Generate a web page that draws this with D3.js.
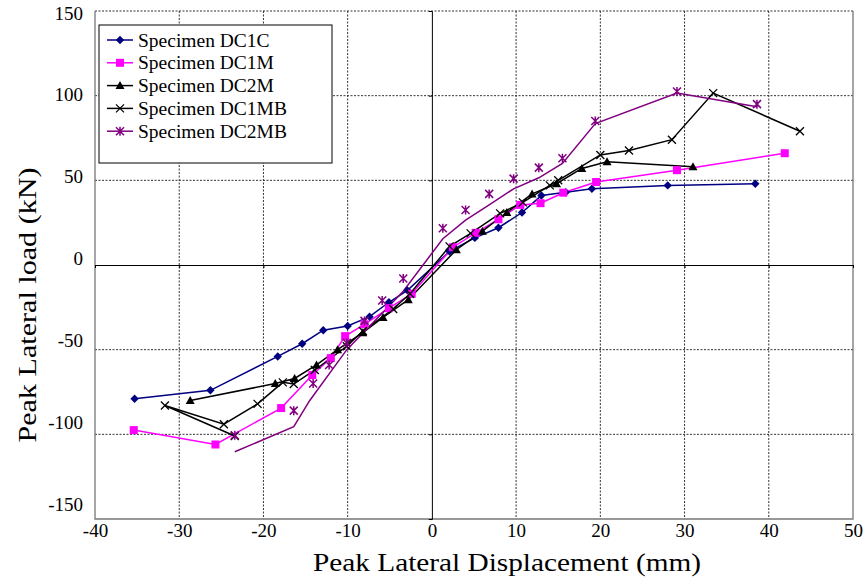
<!DOCTYPE html>
<html>
<head>
<meta charset="utf-8">
<script src="https://d3js.org/d3.v7.min.js"></script>
<style>
  body { margin: 0; background: #fff; }
  svg text { font-family: "Liberation Serif", serif; }
</style>
</head>
<body>
<div id="chart"></div>
<script>
// Axis ticks
const xTicks = [-40, -30, -20, -10, 0, 10, 20, 30, 40, 50];
const yTicks = [-150, -100, -50, 0, 50, 100, 150];

// Series: [displacement (mm), load (kN)]
const dc1c = [[-35.3, -79], [-26.3, -74], [-18.3, -54], [-15.4, -46.5], [-12.9, -38.5], [-10, -36], [-7.4, -30.5], [-5.1, -22], [-2.9, -15], [2.1, 8], [5.1, 16], [7.9, 22], [10.7, 31], [13.0, 41], [15.9, 43], [19.0, 45], [28.0, 47], [38.4, 48]];
const dc1m = [[-35.4, -97.5], [-25.7, -106], [-17.9, -84.5], [-14.2, -65], [-12.0, -55], [-10.3, -42], [-8.0, -35], [-5.1, -25.5], [-2.4, -17], [2.5, 10.5], [5.2, 19], [7.9, 27], [10.5, 35.5], [12.9, 36.5], [15.6, 42.7], [19.5, 49], [29.1, 56], [41.9, 66]];
const dc2m = [[-28.7, -80], [-18.6, -70], [-16.3, -67], [-13.7, -59], [-11.2, -50], [-8.2, -40], [-5.8, -31], [-2.8, -20.5], [2.9, 9], [6.0, 20], [8.9, 31], [11.9, 42], [14.8, 48], [17.8, 57], [20.8, 61], [31.0, 58]];
const dc1mb = [[-23.4, -101], [-31.7, -83], [-24.7, -94], [-20.7, -82], [-17.7, -69.3], [-16.4, -70.3], [-13.9, -62], [-10.1, -48], [-8.2, -39], [-4.6, -26], [-2.6, -17], [2.1, 11], [4.6, 18.7], [8.1, 30.5], [10.8, 37], [14.0, 47], [15.0, 50], [20.0, 65], [23.4, 67.6], [28.5, 74], [33.4, 101.5], [43.7, 79]];
const dc2mbMarks = [[-23.4, -100.5], [-16.4, -86], [-14.1, -70], [-12.2, -59], [-10.1, -46], [-8.0, -33], [-5.9, -21], [-3.4, -8], [1.3, 21.7], [4.0, 32.5], [6.8, 42], [9.7, 51], [12.7, 57.5], [15.5, 63], [19.4, 85], [29.1, 102.5], [38.6, 95]];
const dc2mbLine = [[-23.4, -110.3], [-16.4, -95.5], [-14.5, -80], [-10.1, -50], [-3.4, -15.5], [1.3, 15.5], [4.0, 26.5], [6.8, 35.5], [9.7, 45], [12.7, 51.5], [15.5, 60], [19.4, 83.5], [29.1, 101.5], [38.6, 93.5]];

const legendNames = ["Specimen DC1C", "Specimen DC1M", "Specimen DC2M", "Specimen DC1MB", "Specimen DC2MB"];

const w = 867, h = 585;
const plot = { left: 95, right: 853, top: 11, bottom: 519 };
const serif = "Liberation Serif, serif";

var svg = d3.select("#chart")
  .append("svg")
  .attr("width", w)
  .attr("height", h);

var xScale = d3.scaleLinear().domain([-40, 50]).range([plot.left, plot.right]);
var yScale = d3.scaleLinear().domain([-150, 150]).range([plot.bottom, plot.top]);

// grid lines
svg.append("g")
  .selectAll("line")
  .data(xTicks.filter(t => t != 0 && t != -40 && t != 50))
  .enter()
  .append("line")
  .attr("x1", d => xScale(d)).attr("x2", d => xScale(d))
  .attr("y1", plot.top).attr("y2", plot.bottom)
  .attr("stroke", "#333").attr("stroke-width", 1).attr("stroke-dasharray", "2,1.5");

svg.append("g")
  .selectAll("line")
  .data(yTicks.filter(t => t != 0 && t != -150))
  .enter()
  .append("line")
  .attr("x1", plot.left).attr("x2", plot.right)
  .attr("y1", d => yScale(d)).attr("y2", d => yScale(d))
  .attr("stroke", "#333").attr("stroke-width", 1).attr("stroke-dasharray", "2,1.5");

// plot frame
svg.append("path")
  .attr("d", `M${plot.left},${plot.top}V${plot.bottom}H${plot.right}V${plot.top}`)
  .attr("fill", "none")
  .attr("stroke", "#777")
  .attr("stroke-width", 1.3);

// axes through zero
var xZero = d3.axisBottom(xScale).tickValues(xTicks).tickSize(3).tickFormat("");
svg.append("g")
  .attr("transform", `translate(0, ${yScale(0)})`)
  .call(xZero)
  .call(g => g.selectAll("path, line").attr("stroke", "#000"));

var yZero = d3.axisLeft(yScale).tickValues(yTicks).tickSize(3).tickFormat("");
svg.append("g")
  .attr("transform", `translate(${xScale(0)}, 0)`)
  .call(yZero)
  .call(g => g.selectAll("path, line").attr("stroke", "#000"));

// tick labels (plain hyphen for negatives, like the original)
var xLabels = d3.axisBottom(xScale).tickValues(xTicks).tickSize(0).tickPadding(5)
  .tickFormat(d => String(d));
svg.append("g")
  .attr("transform", `translate(0, ${plot.bottom})`)
  .call(xLabels)
  .attr("font-family", serif)
  .call(g => g.select(".domain").remove())
  .call(g => g.selectAll("text")
    .attr("font-family", serif).attr("font-size", 19).attr("fill", "#000"));

var yLabels = d3.axisLeft(yScale).tickValues(yTicks).tickSize(0).tickPadding(12)
  .tickFormat(d => String(d));
svg.append("g")
  .attr("transform", `translate(${plot.left}, 0)`)
  .call(yLabels)
  .attr("font-family", serif)
  .call(g => g.select(".domain").remove())
  .call(g => g.selectAll(".tick text")
    .attr("font-family", serif).attr("font-size", 19).attr("fill", "#000")
    // labels in the original drift up a little towards the bottom
    .attr("y", d => 2 - (150 - d) / 300 * 17));

// axis titles
svg.append("text")
  .attr("x", 507).attr("y", 571)
  .attr("text-anchor", "middle")
  .attr("font-family", serif)
  .attr("font-size", 26)
  .attr("textLength", 388).attr("lengthAdjust", "spacingAndGlyphs")
  .text("Peak Lateral Displacement (mm)");

svg.append("text")
  .attr("transform", `translate(36, 305) rotate(-90)`)
  .attr("text-anchor", "middle")
  .attr("font-family", serif)
  .attr("font-size", 26)
  .attr("textLength", 275).attr("lengthAdjust", "spacingAndGlyphs")
  .text("Peak Lateral load (kN)");

// marker drawing
function drawMarker(g, type, color) {
  if (type == "diamond") {
    g.append("path").attr("d", "M0,-4.2L4.2,0L0,4.2L-4.2,0Z").attr("fill", color);
  } else if (type == "square") {
    g.append("rect").attr("x", -4).attr("y", -4).attr("width", 8).attr("height", 8).attr("fill", color);
  } else if (type == "triangle") {
    g.append("path").attr("d", "M0,-4.5L4.5,3.5L-4.5,3.5Z").attr("fill", color);
  } else if (type == "cross") {
    g.append("path").attr("d", "M-4,-4L4,4M-4,4L4,-4").attr("stroke", color).attr("stroke-width", 1.3);
  } else if (type == "star") {
    g.append("path").attr("d", "M-4,-4L4,4M-4,4L4,-4M0,-4.5V4.5").attr("stroke", color).attr("stroke-width", 1.5);
  }
}

var line = d3.line().x(d => xScale(d[0])).y(d => yScale(d[1]));

const series = [
  { data: dc1c, lineData: dc1c, color: "#000080", marker: "diamond" },
  { data: dc1m, lineData: dc1m, color: "#FF00FF", marker: "square" },
  { data: dc2m, lineData: dc2m, color: "#000000", marker: "triangle" },
  { data: dc1mb, lineData: dc1mb, color: "#000000", marker: "cross" },
  { data: dc2mbMarks, lineData: dc2mbLine, color: "#800080", marker: "star" }
];

series.forEach(s => {
  svg.append("path")
    .datum(s.lineData)
    .attr("d", line)
    .attr("fill", "none")
    .attr("stroke", s.color)
    .attr("stroke-width", 1.5);
});

series.forEach(s => {
  svg.append("g")
    .selectAll("g")
    .data(s.data)
    .enter()
    .append("g")
    .attr("transform", d => `translate(${xScale(d[0])}, ${yScale(d[1])})`)
    .each(function() { drawMarker(d3.select(this), s.marker, s.color); });
});

// legend
var legend = svg.append("g");
legend.append("rect")
  .attr("x", 99).attr("y", 25).attr("width", 233).attr("height", 138)
  .attr("fill", "#fff").attr("stroke", "#000").attr("stroke-width", 1);

legendNames.forEach((name, i) => {
  const ly = 40 + i * 22.8;
  legend.append("line")
    .attr("x1", 107).attr("x2", 133).attr("y1", ly).attr("y2", ly)
    .attr("stroke", series[i].color).attr("stroke-width", 1.5);
  drawMarker(legend.append("g").attr("transform", `translate(120, ${ly})`), series[i].marker, series[i].color);
  legend.append("text")
    .attr("x", 138).attr("y", ly + 6.5)
    .attr("font-family", serif)
    .attr("font-size", 19.5)
    .text(name);
});
</script>
</body>
</html>
